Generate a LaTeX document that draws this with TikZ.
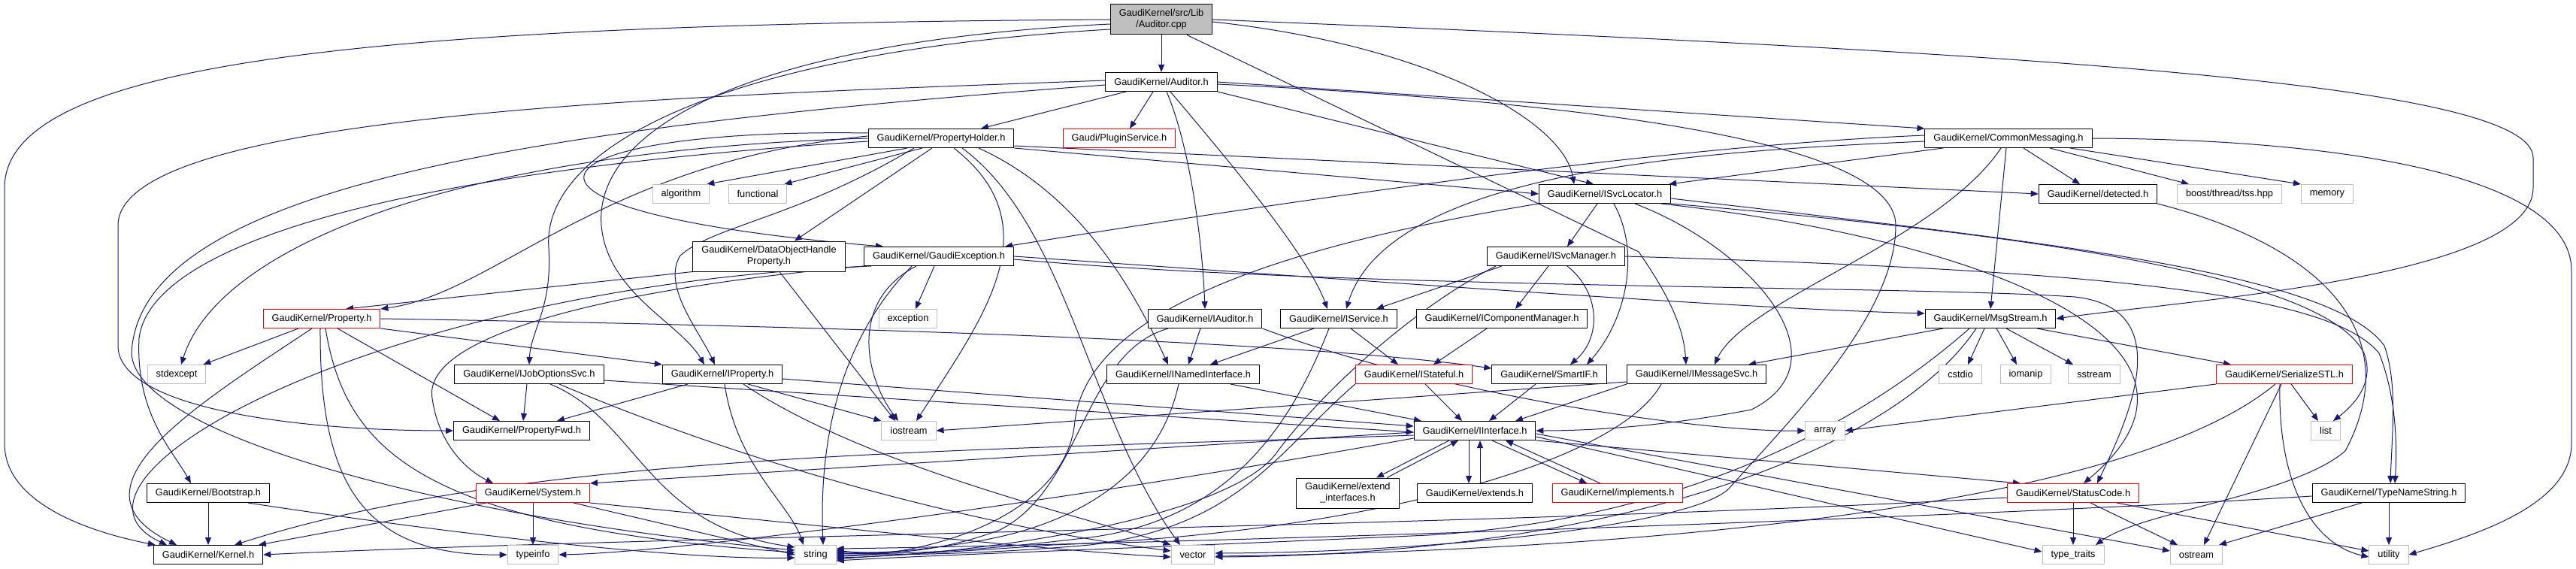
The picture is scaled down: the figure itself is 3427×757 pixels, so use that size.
\documentclass[tikz,border=0pt]{standalone}
\usepackage{fontspec}
\setmainfont{Liberation Sans}
\usetikzlibrary{arrows.meta,backgrounds}
\definecolor{edgeblue}{HTML}{191970}
\definecolor{boxgray}{HTML}{BFBFBF}
\begin{document}
\begin{tikzpicture}[x=1pt,y=-1pt,
file/.style={draw=black,fill=white,line width=1pt,minimum height=25pt,inner xsep=11.5pt,inner ysep=0pt,align=center,font=\fontsize{12.8}{15}\selectfont},
twoline/.style={file,minimum height=40pt},
stdfile/.style={file,draw=boxgray},
partfile/.style={file,draw=red},
mainfile/.style={twoline,fill=boxgray},
dep/.style={draw=edgeblue,line width=1pt,-{Triangle[length=10pt,width=8pt]}}]
\useasboundingbox (0,0) rectangle (3427,757);
\node[mainfile] (cpp) at (1545,26) {GaudiKernel/src/Lib\\/Auditor.cpp};
\node[file] (auditorh) at (1545,109) {GaudiKernel/Auditor.h};
\node[file] (propholder) at (1252,184) {GaudiKernel/PropertyHolder.h};
\node[partfile] (plugin) at (1489,184) {Gaudi/PluginService.h};
\node[file] (commsg) at (2672,184) {GaudiKernel/CommonMessaging.h};
\node[stdfile] (algorithm) at (906,258) {algorithm};
\node[stdfile] (functional) at (1008,258) {functional};
\node[file] (isvcloc) at (2135,258) {GaudiKernel/ISvcLocator.h};
\node[file] (detected) at (2791,258) {GaudiKernel/detected.h};
\node[stdfile] (tss) at (2966,258) {boost/thread/tss.hpp};
\node[stdfile] (memory) at (3096,258) {memory};
\node[twoline] (dohprop) at (1023,341) {GaudiKernel/DataObjectHandle\\Property.h};
\node[file] (gexc) at (1249,341) {GaudiKernel/GaudiException.h};
\node[file] (isvcmgr) at (2070,341) {GaudiKernel/ISvcManager.h};
\node[stdfile] (exception) at (1208,424) {exception};
\node[partfile] (property) at (428,424) {GaudiKernel/Property.h};
\node[file] (iauditor) at (1603,424) {GaudiKernel/IAuditor.h};
\node[file] (iservice) at (1781,424) {GaudiKernel/IService.h};
\node[file] (icompmgr) at (1998,424) {GaudiKernel/IComponentManager.h};
\node[file] (msgstream) at (2648,424) {GaudiKernel/MsgStream.h};
\node[stdfile] (stdexcept) at (235,498) {stdexcept};
\node[file] (ijobopt) at (704,498) {GaudiKernel/IJobOptionsSvc.h};
\node[file] (iproperty) at (961,498) {GaudiKernel/IProperty.h};
\node[file] (inamed) at (1574,498) {GaudiKernel/INamedInterface.h};
\node[partfile] (istateful) at (1881,498) {GaudiKernel/IStateful.h};
\node[file] (smartif) at (2061,498) {GaudiKernel/SmartIF.h};
\node[file] (imsgsvc) at (2257,498) {GaudiKernel/IMessageSvc.h};
\node[stdfile] (cstdio) at (2608,498) {cstdio};
\node[stdfile] (iomanip) at (2695,498) {iomanip};
\node[stdfile] (sstream) at (2786,498) {sstream};
\node[partfile] (serstl) at (3039,498) {GaudiKernel/SerializeSTL.h};
\node[file] (propfwd) at (694,573) {GaudiKernel/PropertyFwd.h};
\node[stdfile] (iostream) at (1209,573) {iostream};
\node[file] (iinterface) at (1962,573) {GaudiKernel/IInterface.h};
\node[stdfile] (array) at (2428,573) {array};
\node[stdfile] (list) at (3094,573) {list};
\node[file] (bootstrap) at (277,656) {GaudiKernel/Bootstrap.h};
\node[partfile] (system) at (709,656) {GaudiKernel/System.h};
\node[twoline] (extintf) at (1793,656) {GaudiKernel/extend\\\_interfaces.h};
\node[file] (extends) at (1962,656) {GaudiKernel/extends.h};
\node[partfile] (implements) at (2152,656) {GaudiKernel/implements.h};
\node[partfile] (statuscode) at (2758,656) {GaudiKernel/StatusCode.h};
\node[file] (typename) at (3178,656) {GaudiKernel/TypeNameString.h};
\node[file] (kernel) at (277,738) {GaudiKernel/Kernel.h};
\node[stdfile] (typeinfo) at (709,738) {typeinfo};
\node[stdfile] (string) at (1085,738) {string};
\node[stdfile] (vector) at (1587,738) {vector};
\node[stdfile] (typetraits) at (2758,738) {type\_traits};
\node[stdfile] (ostream) at (2922,738) {ostream};
\node[stdfile] (utility) at (3178,738) {utility};
\begin{scope}[on background layer]
\fill[white] (0,0) rectangle (3427,757);
\draw[dep] (cpp) -- (auditorh);
\draw[dep] (cpp.west) .. controls (500,32) and (6,80) .. (6,250) -- (6,590) .. controls (6,670) and (120,708) .. ([xshift=3pt]kernel.north west);
\draw[dep] ([yshift=-6pt]cpp.west) .. controls (1000,55) and (790,170) .. (800,300) .. controls (808,390) and (905,430) .. ([xshift=-24pt]iproperty.north);
\draw[dep] ([yshift=-13pt]cpp.west) .. controls (950,70) and (720,200) .. (730,330) .. controls (735,410) and (706,440) .. (ijobopt.north);
\draw[dep] ([yshift=-3pt]cpp.east) .. controls (1900,60) and (2080,160) .. ([xshift=-41pt]isvcloc.north);
\draw[dep] (cpp.east) .. controls (2700,70) and (3370,110) .. (3370,210) -- (3370,250) .. controls (3370,370) and (2900,400) .. (msgstream.east);
\draw[dep] ([xshift=34pt]cpp.south) -- (2180,335) .. controls (2225,400) and (2240,440) .. ([xshift=-14pt]imsgsvc.north);
\draw[dep] ([xshift=-47pt]auditorh.south) -- ([xshift=53pt]propholder.north);
\draw[dep] ([xshift=-11pt]auditorh.south) -- ([xshift=14pt]plugin.north);
\draw[dep] ([xshift=7pt]auditorh.south) .. controls (1585,200) and (1600,330) .. (iauditor.north);
\draw[dep] ([xshift=12pt]auditorh.south) .. controls (1640,220) and (1740,340) .. ([xshift=-15pt]iservice.north);
\draw[dep] (auditorh.east) -- (commsg.north west);
\draw[dep] (auditorh.south east) -- ([xshift=-15pt]isvcloc.north);
\draw[dep] ([yshift=2pt]auditorh.west) .. controls (900,128) and (157,150) .. (157,300) -- (157,460) .. controls (157,540) and (380,573) .. (propfwd.west);
\draw[dep] ([yshift=-4pt]auditorh.west) .. controls (700,170) and (185,250) .. (175,470) .. controls (180,580) and (600,690) .. ([yshift=6pt]string.west);
\draw[dep] ([yshift=-3pt]auditorh.east) .. controls (2200,140) and (2522,200) .. (2522,300) .. controls (2522,420) and (2380,560) .. (2300,650) .. controls (2250,700) and (1900,735) .. ([yshift=2pt]vector.east);
\draw[dep] ([xshift=-45pt]propholder.south) -- ([xshift=-4pt]algorithm.north east);
\draw[dep] ([xshift=-25pt]propholder.south) -- ([xshift=-4pt]functional.north east);
\draw[dep] ([xshift=-12pt]propholder.south) -- ([xshift=34pt]dohprop.north);
\draw[dep] ([xshift=-36pt]propholder.south) .. controls (1060,290) and (950,300) .. (905,340) .. controls (880,380) and (930,440) .. ([xshift=-10pt]iproperty.north);
\draw[dep] ([yshift=3pt]propholder.west) .. controls (800,215) and (660,390) .. (property.north east);
\draw[dep] (propholder.west) .. controls (600,200) and (290,330) .. ([xshift=6pt]stdexcept.north);
\draw[dep] ([yshift=-4pt]propholder.west) .. controls (500,230) and (200,330) .. (185,450) .. controls (180,550) and (230,600) .. ([xshift=-23pt]bootstrap.north);
\draw[dep] ([xshift=17pt]propholder.south) .. controls (1400,300) and (1310,420) .. ([xshift=10pt]iostream.north);
\draw[dep] ([xshift=28pt]propholder.south) .. controls (1420,300) and (1450,560) .. ([xshift=-17pt]vector.north);
\draw[dep] ([xshift=50pt]propholder.south) .. controls (1440,260) and (1510,390) .. ([xshift=-20pt]inamed.north);
\draw[dep] (propholder.south east) -- (isvcloc.west);
\draw[dep] ([yshift=-10pt]propholder.east) -- (detected.west);
\draw[dep] ([yshift=7pt]propholder.west) .. controls (700,170) and (600,280) .. ([xshift=-74pt]gexc.north);
\draw[dep] ([xshift=-87pt]commsg.south) -- ([xshift=-3pt]isvcloc.north east);
\draw[dep] ([yshift=-4pt]commsg.west) .. controls (2300,200) and (1850,220) .. ([xshift=10pt]iservice.north);
\draw[dep] ([yshift=4pt]commsg.west) .. controls (2200,195) and (1700,270) .. ([xshift=-12pt]gexc.north east);
\draw[dep] ([xshift=-10pt]commsg.south) .. controls (2580,320) and (2320,400) .. ([xshift=24pt]imsgsvc.north);
\draw[dep] ([xshift=-3pt]commsg.south) -- (msgstream.north);
\draw[dep] ([xshift=20pt]commsg.south) -- ([xshift=-24pt]detected.north);
\draw[dep] ([xshift=55pt]commsg.south) -- ([xshift=-54pt]tss.north);
\draw[dep] ([xshift=82pt]commsg.south) -- (memory.north west);
\draw[dep] (commsg.east) .. controls (3100,185) and (3421,230) .. (3421,360) -- (3421,590) .. controls (3421,670) and (3300,710) .. (utility.east);
\draw[dep] ([xshift=-10pt]isvcloc.south) -- ([xshift=15pt]isvcmgr.north);
\draw[dep] ([xshift=12pt]isvcloc.south) .. controls (2185,340) and (2160,430) .. ([xshift=50pt]smartif.north);
\draw[dep] ([xshift=40pt]isvcloc.south) .. controls (2330,330) and (2460,480) .. (2330,545) .. controls (2200,570) and (2100,573) .. (iinterface.east);
\draw[dep] (isvcloc.south east) .. controls (2800,320) and (3100,380) .. (3145,470) .. controls (3160,510) and (3130,540) .. ([xshift=10pt]list.north);
\draw[dep] ([yshift=-6pt]isvcloc.east) .. controls (2700,320) and (3100,360) .. (3172,460) .. controls (3190,510) and (3182,580) .. ([xshift=2pt]typename.north);
\draw[dep] ([xshift=75pt]isvcloc.south) .. controls (2650,320) and (2990,460) .. ([xshift=14pt]statuscode.north);
\draw[dep] (isvcloc.south west) .. controls (1750,320) and (1450,400) .. (1430,560) .. controls (1420,680) and (1250,738) .. ([yshift=-2pt]string.east);
\draw[dep] ([xshift=-10pt]isvcmgr.south) -- ([xshift=18pt]icompmgr.north);
\draw[dep] ([xshift=-72pt]isvcmgr.south) -- ([xshift=50pt]iservice.north);
\draw[dep] ([xshift=15pt]isvcmgr.south) .. controls (2130,390) and (2130,450) .. ([xshift=28pt]smartif.north);
\draw[dep] (isvcmgr.east) .. controls (2800,360) and (3100,390) .. (3165,470) .. controls (3185,520) and (3190,580) .. ([xshift=8pt]typename.north);
\draw[dep] ([xshift=-80pt]isvcmgr.south) .. controls (1880,410) and (1760,520) .. (1700,600) .. controls (1640,690) and (1300,738) .. ([yshift=-4pt]string.east);
\draw[dep] ([xshift=-20pt]icompmgr.south) -- ([xshift=26pt]istateful.north);
\draw[dep] ([xshift=-33pt]iservice.south) -- ([xshift=36pt]inamed.north);
\draw[dep] ([xshift=16pt]iservice.south) -- ([xshift=-21pt]istateful.north);
\draw[dep] ([xshift=-13pt]iservice.south) .. controls (1720,560) and (1640,690) .. (1450,715) .. controls (1300,733) and (1200,738) .. ([yshift=2pt]string.east);
\draw[dep] ([xshift=-6pt]iauditor.south) -- ([xshift=7pt]inamed.north);
\draw[dep] ([xshift=-49pt]iauditor.south) .. controls (1440,470) and (1440,650) .. (1330,705) .. controls (1250,735) and (1180,738) .. ([yshift=4pt]string.east);
\draw[dep] (iauditor.south east) .. controls (1900,520) and (2250,575) .. (array.west);
\draw[dep] ([xshift=63pt]inamed.south) -- ([xshift=-71pt]iinterface.north);
\draw[dep] ([xshift=-6pt]inamed.south) .. controls (1540,640) and (1420,700) .. (1300,720) .. controls (1220,733) and (1160,738) .. ([yshift=6pt]string.east);
\draw[dep] ([xshift=15pt]istateful.south) -- ([xshift=-17pt]iinterface.north);
\draw[dep] (istateful.south west) .. controls (1700,600) and (1650,700) .. (1450,725) .. controls (1300,738) and (1200,738) .. (string.east);
\draw[dep] ([xshift=-18pt]smartif.south) -- ([xshift=19pt]iinterface.north);
\draw[dep] (imsgsvc.south west) -- ([xshift=54pt]iinterface.north);
\draw[dep] ([yshift=3pt]imsgsvc.south west) -- (iostream.east);
\draw[dep] ([xshift=-47pt]imsgsvc.south) .. controls (2150,620) and (1800,710) .. (1400,725) .. controls (1250,736) and (1180,738) .. ([yshift=-6pt]string.east);
\draw[dep] ([xshift=-63pt]msgstream.south) -- ([xshift=69pt]imsgsvc.north);
\draw[dep] ([xshift=-8pt]msgstream.south) -- ([xshift=10pt]cstdio.north);
\draw[dep] ([xshift=8pt]msgstream.south) -- ([xshift=-12pt]iomanip.north);
\draw[dep] ([xshift=21pt]msgstream.south) -- ([xshift=-28pt]sstream.north);
\draw[dep] ([xshift=62pt]msgstream.south) -- ([xshift=-71pt]serstl.north);
\draw[dep] ([xshift=-28pt]msgstream.south) .. controls (2480,560) and (2250,690) .. (1900,712) .. controls (1500,730) and (1250,738) .. ([yshift=-8pt]string.east);
\draw[dep] ([xshift=-19pt]msgstream.south) .. controls (2520,600) and (2150,738) .. ([yshift=-3pt]vector.east);
\draw[dep] ([xshift=-6pt]gexc.south) -- ([xshift=10pt]exception.north);
\draw[dep] ([xshift=-30pt]gexc.south) .. controls (1130,400) and (1150,500) .. ([xshift=-14pt]iostream.north);
\draw[dep] ([xshift=-36pt]gexc.south) .. controls (1110,460) and (1090,600) .. ([xshift=10pt]string.north);
\draw[dep] (gexc.south west) .. controls (850,380) and (560,440) .. (575,530) .. controls (585,600) and (630,630) .. ([xshift=-53pt]system.north);
\draw[dep] ([xshift=-90pt]gexc.south) .. controls (500,380) and (40,640) .. ([xshift=-55pt]kernel.north);
\draw[dep] ([yshift=-4pt]gexc.east) .. controls (1800,385) and (2550,380) .. (2760,395) .. controls (2900,410) and (2830,560) .. ([xshift=32pt]statuscode.north);
\draw[dep] (gexc.east) .. controls (1800,372) and (2300,410) .. ([yshift=7pt]msgstream.west);
\draw[dep] (dohprop.south west) -- ([xshift=32pt]property.north);
\draw[dep] ([xshift=14pt]dohprop.south) -- ([xshift=-18pt]iostream.north);
\draw[dep] ([xshift=-31pt]property.south) -- ([xshift=-4pt]stdexcept.north east);
\draw[dep] ([xshift=-13pt]property.south) .. controls (260,540) and (80,650) .. ([xshift=-42pt]kernel.north);
\draw[dep] ([xshift=21pt]property.south) -- ([xshift=-29pt]propfwd.north);
\draw[dep] (property.south east) -- (iproperty.north west);
\draw[dep] (property.east) .. controls (1000,432) and (1700,450) .. ([yshift=8pt]smartif.west);
\draw[dep] ([xshift=-2pt]property.south) .. controls (425,640) and (480,740) .. (typeinfo.west);
\draw[dep] ([xshift=5pt]property.south) .. controls (460,600) and (560,700) .. ([yshift=3pt]string.west);
\draw[dep] ([xshift=-46pt]iproperty.south) -- ([xshift=47pt]propfwd.north);
\draw[dep] ([xshift=34pt]iproperty.south) -- (iostream.north west);
\draw[dep] ([xshift=3pt]iproperty.south) .. controls (980,620) and (1050,670) .. ([xshift=-16pt]string.north);
\draw[dep] ([yshift=-6pt]iproperty.east) -- ([yshift=6pt]iinterface.west);
\draw[dep] ([xshift=28pt]iproperty.south) .. controls (1150,620) and (1450,690) .. (vector.north west);
\draw[dep] ([xshift=-3pt]ijobopt.south) -- ([xshift=2pt]propfwd.north);
\draw[dep] ([yshift=-8pt]ijobopt.east) -- ([yshift=-2pt]iinterface.west);
\draw[dep] ([xshift=28pt]ijobopt.south) .. controls (850,560) and (860,700) .. ([yshift=10pt]string.west);
\draw[dep] ([xshift=40pt]ijobopt.south) .. controls (1000,620) and (1300,700) .. ([yshift=5pt]vector.west);
\draw[dep] (bootstrap) -- (kernel);
\draw[dep] ([xshift=53pt]bootstrap.south) .. controls (600,710) and (900,745) .. ([yshift=-4pt]string.west);
\draw[dep] (system) -- (typeinfo);
\draw[dep] ([xshift=-62pt]system.south) -- ([xshift=67pt]kernel.north);
\draw[dep] ([xshift=54pt]system.south) -- (string.west);
\draw[dep] (system.south east) .. controls (1100,700) and (1400,733) .. ([yshift=-3pt]vector.west);
\draw[dep] ([xshift=-34pt]iinterface.south) -- ([xshift=38pt]extintf.north);
\draw[dep] ([xshift=52pt]extintf.north) -- ([xshift=-22pt]iinterface.south);
\draw[dep] ([xshift=-8pt]iinterface.south) -- ([xshift=-8pt]extends.north);
\draw[dep] ([xshift=7pt]extends.north) -- ([xshift=7pt]iinterface.south);
\draw[dep] ([xshift=23pt]iinterface.south) -- ([xshift=-41pt]implements.north);
\draw[dep] ([xshift=-23pt]implements.north) -- ([xshift=41pt]iinterface.south);
\draw[dep] ([yshift=-2pt]iinterface.west) -- (system.north east);
\draw[dep] ([yshift=-6pt]iinterface.west) .. controls (1300,600) and (700,600) .. ([xshift=35pt]kernel.north);
\draw[dep] ([yshift=-10pt]iinterface.west) .. controls (1400,670) and (900,735) .. (typeinfo.east);
\draw[dep] (iinterface.south east) -- ([xshift=-70pt]statuscode.north);
\draw[dep] ([yshift=-8pt]iinterface.east) -- ([yshift=4pt]typetraits.west);
\draw[dep] ([yshift=-4pt]iinterface.east) -- ([yshift=5pt]ostream.west);
\draw[dep] (statuscode) -- (typetraits);
\draw[dep] ([xshift=23pt]statuscode.south) -- ([xshift=-25pt]ostream.north);
\draw[dep] ([xshift=58pt]statuscode.south) -- ([yshift=5pt]utility.west);
\draw[dep] ([yshift=-6pt]statuscode.west) .. controls (2000,700) and (900,712) .. (kernel.east);
\draw[dep] ([xshift=-36pt]typename.south) -- ([xshift=30pt]ostream.north);
\draw[dep] (typename) -- (utility);
\draw[dep] ([yshift=-4pt]typename.west) .. controls (2600,690) and (1500,725) .. ([yshift=8pt]string.east);
\draw[dep] (serstl.south west) -- (array.east);
\draw[dep] ([xshift=9pt]serstl.south) -- ([xshift=-10pt]list.north);
\draw[dep] ([xshift=-4pt]serstl.south) -- ([xshift=10pt]ostream.north);
\draw[dep] ([xshift=-6pt]serstl.south) .. controls (3030,650) and (3080,725) .. ([yshift=-3pt]utility.west);
\draw[dep] ([xshift=-12pt]serstl.south) .. controls (2800,700) and (2000,735) .. ([yshift=-2pt]vector.east);
\draw[dep] (detected.south east) .. controls (3100,330) and (3200,450) .. (3120,600) .. controls (3050,660) and (2850,680) .. ([xshift=30pt]typetraits.north);
\end{scope}
\end{tikzpicture}
\end{document}
